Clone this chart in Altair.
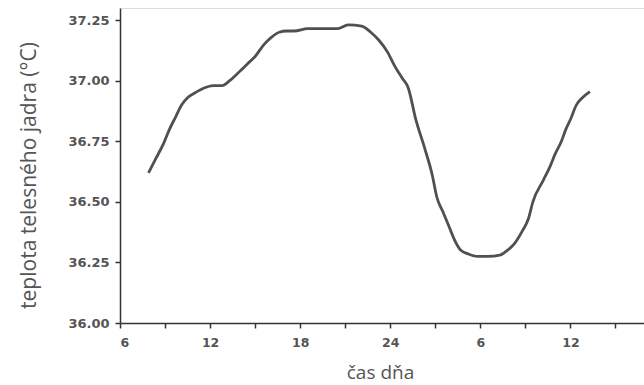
import altair as alt
import pandas as pd

# Core body temperature over ~30 hours (hour of the day, continuing past midnight)
hours = [7.9, 8.4, 8.9, 9.3, 9.7, 10.1, 10.5, 11.0, 11.6, 12.2, 12.8, 13.3,
         14.0, 14.5, 15.0, 15.6, 16.1, 16.6, 17.1, 17.6, 18.5, 19.5, 20.5,
         21.2, 22.1, 22.7, 23.2, 23.8, 24.3, 24.8, 25.2, 25.7, 26.3, 26.8,
         27.1, 27.5, 27.9, 28.3, 28.7, 29.2, 29.8, 30.5, 31.3, 31.8, 32.3,
         32.8, 33.2, 33.5, 34.2, 34.6, 35.0, 35.4, 35.7, 36.0, 36.4, 36.8,
         37.3]
temps = [36.62, 36.68, 36.74, 36.80, 36.85, 36.90, 36.93, 36.95, 36.97,
         36.98, 36.98, 37.00, 37.04, 37.07, 37.10, 37.15, 37.18, 37.20,
         37.205, 37.205, 37.215, 37.215, 37.215, 37.23, 37.225, 37.20,
         37.17, 37.12, 37.06, 37.01, 36.97, 36.84, 36.72, 36.61, 36.52,
         36.46, 36.40, 36.34, 36.30, 36.285, 36.275, 36.275, 36.28, 36.30,
         36.33, 36.38, 36.43, 36.50, 36.59, 36.64, 36.70, 36.75, 36.80,
         36.84, 36.90, 36.93, 36.955]

x_ticks = [6, 9, 12, 15, 18, 21, 24, 27, 30, 33, 36, 39]
y_ticks = [36.00, 36.25, 36.50, 36.75, 37.00, 37.25]

df = pd.DataFrame({"hour": hours, "temp": temps})

label_font = "DejaVu Sans"
title_font = "Open Sans"

chart = (
    alt.Chart(df)
    .mark_line(color="#505050", strokeWidth=2.8, interpolate="monotone")
    .encode(
        x=alt.X(
            "hour:Q",
            scale=alt.Scale(domain=[6, 40.9], nice=False, zero=False),
            axis=alt.Axis(
                values=x_ticks,
                labelExpr="datum.value % 6 == 0 ? (datum.value % 24 == 0 ? '24' : '' + (datum.value % 24)) : ''",
                title="čas dňa",
                titleFont=title_font,
                titleFontSize=19,
                titleFontWeight="normal",
                titleColor="#555555",
                titleX=260,
                titleY=49,
                titleBaseline="middle",
                labelFont=label_font,
                labelFontSize=12.5,
                labelFontWeight="bold",
                labelColor="#555555",
                labelPadding=8,
                tickSize=5,
                tickColor="#333333",
                tickWidth=1.5,
                domainColor="#333333",
                domainWidth=1.5,
                grid=False,
            ),
        ),
        y=alt.Y(
            "temp:Q",
            scale=alt.Scale(domain=[36.0, 37.3], nice=False, zero=False),
            axis=alt.Axis(
                values=y_ticks,
                format=".2f",
                title="teplota telesného jadra (°C)",
                titleFont=title_font,
                titleFontSize=21,
                titleFontWeight="normal",
                titleColor="#555555",
                titleAngle=-90,
                titleX=-91,
                titleY=167,
                titleAlign="center",
                titleBaseline="middle",
                labelFont=label_font,
                labelFontSize=13,
                labelFontWeight="bold",
                labelColor="#555555",
                labelPadding=6,
                tickSize=5,
                tickColor="#333333",
                tickWidth=1.5,
                domainColor="#333333",
                domainWidth=1.5,
                grid=False,
            ),
        ),
    )
    .properties(
        width=524,
        height=315,
        padding={"left": 120, "top": 8, "right": 0, "bottom": 62},
        autosize=alt.AutoSizeParams(type="none"),
    )
    .configure_view(stroke=None)
    .configure(background="white")
)

chart.save("out.html", embed_options={"renderer": "svg", "actions": False})
